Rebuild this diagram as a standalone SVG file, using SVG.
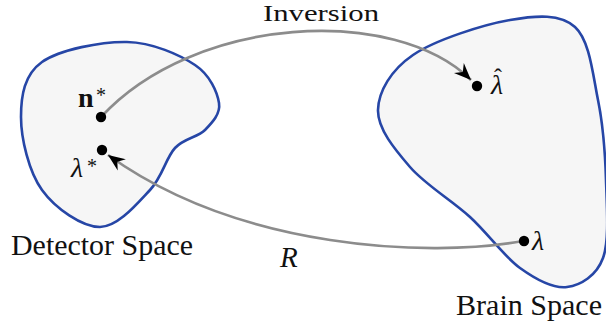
<svg xmlns="http://www.w3.org/2000/svg" width="606" height="331" viewBox="0 0 606 331">
<style>
.blob{fill:#f6f6f6;stroke:#2646a6;stroke-width:2.6;stroke-linejoin:round}
.conn{fill:none;stroke:#8c8c8c;stroke-width:2.7}
.dot{fill:#000}
.t{font-family:"Liberation Serif","Times New Roman",serif;fill:#111}
.it{font-style:italic}
</style>
<defs>
<marker id="ah" viewBox="-18 -8 19 16" refX="0" refY="0" markerWidth="19" markerHeight="16" markerUnits="userSpaceOnUse" orient="auto">
<path d="M0,0 L-17,-7 L-11.5,0 L-17,7 Z" fill="#000"/>
</marker>
</defs>
<g id="detector-space">
<path class="blob" d="M127,42 C152.5,42.5 179.7,54.8 195,65 C210.3,75.2 217.3,92.2 219,103 C220.7,113.8 212.3,122.5 205,130 C197.7,137.5 184.2,138 175,148 C165.8,158 162.5,176.8 150,190 C137.5,203.2 118,227 100,227 C82,227 55.2,208.3 42,190 C28.8,171.7 21,138.3 21,117 C21,95.7 24.3,74.5 42,62 C59.7,49.5 101.5,41.5 127,42 Z"/>
<text class="t" x="11" y="255" font-size="29" textLength="182" lengthAdjust="spacingAndGlyphs">Detector Space</text>
</g>
<g id="brain-space">
<path class="blob" d="M378,110 C378.5,91.3 391,70 413,55 C435,40 483,24.7 510,20 C537,15.3 560.3,13.7 575,27 C589.7,40.3 592.8,74.5 598,100 C603.2,125.5 605.2,153.7 606,180 C606.8,206.3 609.5,240.2 603,258 C596.5,275.8 580.8,285.3 567,287 C553.2,288.7 536.2,279.7 520,268 C503.8,256.3 488.3,233.8 470,217 C451.7,200.2 425.3,184.8 410,167 C394.7,149.2 377.5,128.7 378,110 Z"/>
<text class="t" x="456" y="315" font-size="29" textLength="146" lengthAdjust="spacingAndGlyphs">Brain Space</text>
</g>
<g id="connectors">
<path id="inversion" class="conn" marker-end="url(#ah)" d="M101,117 C195,15 395,5 471,80"/>
<text class="t" x="263" y="21" font-size="24" textLength="116" lengthAdjust="spacingAndGlyphs">Inversion</text>
<path id="r-map" class="conn" marker-end="url(#ah)" d="M523,241 C430,258 240,250 108,155"/>
<text class="t it" x="280" y="267" font-size="29">R</text>
</g>
<g id="n-star">
<circle class="dot" cx="101" cy="117" r="5.2"/>
<text class="t" x="78" y="107" font-size="28" font-weight="bold">n</text>
<text class="t" x="96" y="102" font-size="20">*</text>
</g>
<g id="lambda-star">
<circle class="dot" cx="102" cy="150" r="5.2"/>
<text class="t it" x="71" y="177" font-size="28">λ</text>
<text class="t" x="87" y="173" font-size="20">*</text>
</g>
<g id="lambda-hat">
<circle class="dot" cx="477" cy="86" r="5.2"/>
<text class="t it" x="491" y="94" font-size="28">λ<tspan x="494" y="85" font-style="normal" font-size="24">ˆ</tspan></text>
</g>
<g id="lambda">
<circle class="dot" cx="524" cy="241" r="5.2"/>
<text class="t it" x="532" y="250" font-size="28">λ</text>
</g>
</svg>
